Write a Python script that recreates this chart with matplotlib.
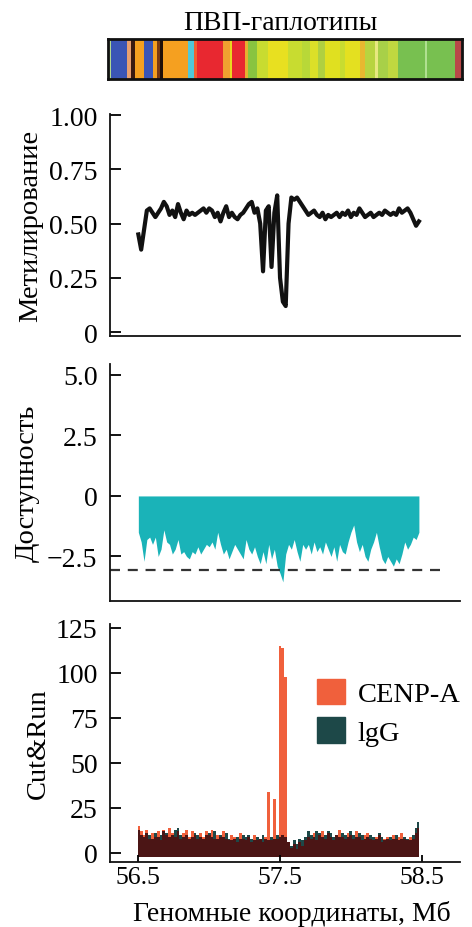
import numpy as np
import matplotlib
matplotlib.use("Agg")
import matplotlib.pyplot as plt
from matplotlib.patches import Patch

plt.rcParams['font.family'] = ['Liberation Serif', 'DejaVu Serif']

# ---------------- data ----------------
# haplotype segments: start fraction of bar, colour
hap_starts = [0.0, 0.003, 0.008, 0.054, 0.065, 0.076, 0.102, 0.127, 0.138, 0.147,
              0.155, 0.226, 0.243, 0.251, 0.325, 0.345, 0.350, 0.387, 0.395, 0.421,
              0.452, 0.508, 0.548, 0.571, 0.593, 0.613, 0.655, 0.669, 0.712, 0.726,
              0.754, 0.763, 0.791, 0.819, 0.895, 0.901, 0.980]
hap_colors = ['#3a55b5', '#b0d890', '#3a55b5', '#e8a070', '#3a1a10', '#f5a020', '#3a55b5',
              '#f5a020', '#7a3a10', '#201008', '#f5a020', '#50c8d8', '#f06030', '#e82830',
              '#f0a030', '#e8d820', '#e82830', '#e8b030', '#88c440', '#c8dc30', '#e8e020',
              '#c8dc30', '#b8d838', '#dce028', '#b0d040', '#e0e020', '#c8dc30', '#e4e020',
              '#e8b830', '#b8d440', '#e8e880', '#a8d048', '#c0d840', '#78c050', '#b0e090',
              '#78c050', '#b84848']

meth_x0, step = 56.50, 0.02
meth = [0.45, 0.38, 0.47, 0.56, 0.57, 0.55, 0.53, 0.55, 0.57, 0.60,
        0.58, 0.54, 0.56, 0.53, 0.59, 0.55, 0.52, 0.56, 0.54, 0.55,
        0.54, 0.55, 0.56, 0.57, 0.55, 0.57, 0.56, 0.53, 0.55, 0.51,
        0.55, 0.58, 0.53, 0.55, 0.53, 0.52, 0.54, 0.55, 0.57, 0.59,
        0.60, 0.55, 0.57, 0.50, 0.28, 0.56, 0.58, 0.30, 0.55, 0.63,
        0.25, 0.14, 0.12, 0.50, 0.62, 0.61, 0.62, 0.60, 0.58, 0.56,
        0.54, 0.55, 0.56, 0.54, 0.53, 0.55, 0.52, 0.54, 0.53, 0.54,
        0.55, 0.53, 0.55, 0.54, 0.56, 0.53, 0.55, 0.54, 0.57, 0.55,
        0.53, 0.54, 0.55, 0.53, 0.54, 0.55, 0.54, 0.56, 0.55, 0.54,
        0.55, 0.54, 0.57, 0.55, 0.56, 0.57, 0.55, 0.52, 0.49, 0.51]

access = [-1.5, -1.9, -2.7, -1.8, -1.7, -2.0, -1.7, -2.5, -2.2, -1.4,
          -1.9, -2.0, -2.4, -2.2, -1.8, -2.4, -2.3, -2.5, -2.6, -2.3,
          -2.4, -2.1, -2.4, -2.2, -2.0, -2.1, -1.9, -2.2, -1.5, -2.0,
          -2.4, -2.2, -2.6, -2.3, -2.0, -2.2, -2.4, -2.6, -1.8, -2.2,
          -2.4, -2.1, -2.5, -2.8, -2.3, -2.8, -2.0, -2.6, -2.2, -2.9,
          -3.2, -3.55, -2.4, -2.0, -2.2, -1.8, -2.3, -2.7, -2.0, -2.2,
          -2.0, -2.4, -1.9, -2.3, -2.1, -2.4, -1.9, -2.2, -2.5, -2.1,
          -2.7, -2.0, -2.3, -2.4, -1.9, -1.5, -1.2, -1.9, -2.3, -2.0,
          -2.5, -2.7, -2.2, -1.9, -1.5, -2.1, -2.6, -2.8, -2.5, -2.7,
          -2.9, -2.6, -2.8, -2.4, -1.9, -2.2, -2.0, -1.7, -1.8, -1.5]
access_threshold = -3.05

cenpa = [15, 12, 10, 13, 8, 11, 9, 12, 7, 13,
         10, 14, 11, 9, 12, 8, 11, 13, 9, 12,
         10, 8, 11, 9, 12, 10, 13, 8, 10, 9,
         12, 8, 7, 10, 9, 6, 11, 8, 7, 9,
         6, 10, 7, 8, 6, 9, 34, 7, 30, 8,
         115, 114, 98, 6, 3, 5, 2, 6, 4, 7,
         9, 8, 11, 7, 10, 12, 8, 11, 9, 7,
         10, 13, 9, 8, 11, 10, 8, 12, 9, 7,
         10, 11, 8, 7, 9, 10, 6, 8, 9, 7,
         10, 8, 9, 11, 8, 7, 9, 8, 11, 14]
igg = [13, 10, 9, 11, 10, 8, 11, 9, 10, 12,
       11, 9, 10, 13, 14, 10, 9, 10, 8, 9,
       11, 10, 9, 8, 10, 11, 9, 12, 8, 10,
       9, 11, 8, 7, 8, 9, 8, 10, 9, 10,
       8, 7, 9, 8, 10, 8, 7, 9, 8, 10,
       9, 10, 9, 6, 4, 7, 5, 8, 7, 9,
       12, 10, 9, 12, 11, 9, 10, 12, 11, 9,
       10, 9, 11, 10, 9, 12, 10, 9, 11, 10,
       8, 9, 10, 9, 8, 11, 9, 7, 8, 9,
       8, 10, 7, 8, 9, 8, 7, 10, 14, 17]

xticks = [56.5, 57.5, 58.5]
meth_ticks = [0, 0.25, 0.50, 0.75, 1.00]
meth_ticklabels = ['0', '0.25', '0.50', '0.75', '1.00']
acc_ticks = [-2.5, 0, 2.5, 5.0]
acc_ticklabels = ['\u22122.5', '0', '2.5', '5.0']
cr_ticks = [0, 25, 50, 75, 100, 125]
cr_ticklabels = ['0', '25', '50', '75', '100', '125']

# ---------------- figure ----------------
W, H = 472, 928
fig = plt.figure(figsize=(W / 100, H / 100), dpi=100)

def fax(x0, y0, x1, y1):
    return fig.add_axes([x0 / W, 1 - y1 / H, (x1 - x0) / W, (y1 - y0) / H])

xlim = (56.30, 58.77)
FS = 20.5
TFS = 20

# haplotype bar
axh = fax(108, 40, 462, 80)
hap_ends = hap_starts[1:] + [1.0]
widths = [e - s for s, e in zip(hap_starts, hap_ends)]
axh.barh(0.5, widths, left=hap_starts, height=1.0, color=hap_colors, linewidth=0)
axh.set_xlim(0, 1)
axh.set_ylim(0, 1)
axh.set_xticks([])
axh.set_yticks([])
for sp in axh.spines.values():
    sp.set_linewidth(2.0)
    sp.set_color('#111111')
fig.text(280 / W, 1 - 24 / H, 'ПВП-гаплотипы', ha='center', va='center', fontsize=20)

def style(ax):
    ax.spines['top'].set_visible(False)
    ax.spines['right'].set_visible(False)
    for s in ('left', 'bottom'):
        ax.spines[s].set_linewidth(1.3)
        ax.spines[s].set_color('#111111')
    ax.tick_params(axis='y', direction='in', length=8, width=1.3, labelsize=TFS, pad=9)
    ax.tick_params(axis='x', direction='in', length=5, width=1.3, labelsize=18.5, pad=3)
    ax.set_xlim(*xlim)

x_grid = meth_x0 + step * np.arange(len(meth))

# methylation
ax1 = fax(110, 115, 460, 337)
style(ax1)
ax1.plot(x_grid, meth, color='#111111', lw=3.0, solid_joinstyle='round')
ax1.set_ylim(-0.018, 1.005)
ax1.set_yticks(meth_ticks)
ax1.set_yticklabels(meth_ticklabels)
ax1.set_xticks([])
ax1.set_ylabel('Метилирование', fontsize=FS)
ax1.yaxis.set_label_coords(-0.19, 0.5)

# accessibility
ax2 = fax(110, 365, 460, 602)
style(ax2)
ax2.fill_between(x_grid, 0, access, color='#1ab3b8', lw=0)
ax2.plot([xlim[0], 58.64], [access_threshold, access_threshold], color='#333333',
         lw=1.6, dashes=(4.5, 3.5))
ax2.set_ylim(-4.34, 5.45)
ax2.set_yticks(acc_ticks)
ax2.set_yticklabels(acc_ticklabels)
ax2.set_xticks([])
ax2.set_ylabel('Доступность', fontsize=FS)
ax2.yaxis.set_label_coords(-0.20, 0.5)

# Cut&Run
ax3 = fax(110, 625, 460, 863)
style(ax3)
red, teal, maroon = '#f0603c', '#1d4848', '#4b1515'
base = -2
ax3.fill_between(x_grid, base, cenpa, step='mid', color=red, lw=0)
ax3.fill_between(x_grid, base, igg, step='mid', color=teal, lw=0)
ax3.fill_between(x_grid, base, np.minimum(cenpa, igg), step='mid', color=maroon, lw=0)
ax3.set_ylim(-5, 127.2)
ax3.set_yticks(cr_ticks)
ax3.set_yticklabels(cr_ticklabels)
ax3.set_xticks(xticks)
ax3.set_xticklabels(['56.5', '57.5', '58.5'])
ax3.set_ylabel('Cut&Run', fontsize=FS)
ax3.yaxis.set_label_coords(-0.17, 0.5)
fig.text(292 / W, 1 - 921 / H, 'Геномные координаты, Мб', ha='center', va='baseline',
         fontsize=20)

handles = [Patch(color=red, label='CENP-A'), Patch(color=teal, label='lgG')]
ax3.legend(handles=handles, loc='upper left', bbox_to_anchor=(0.59, 0.77),
           frameon=False, fontsize=FS, handlelength=1.0, handleheight=1.0,
           handletextpad=0.45, labelspacing=0.35, borderpad=0, borderaxespad=0)

fig.savefig('out.png', dpi=100)
